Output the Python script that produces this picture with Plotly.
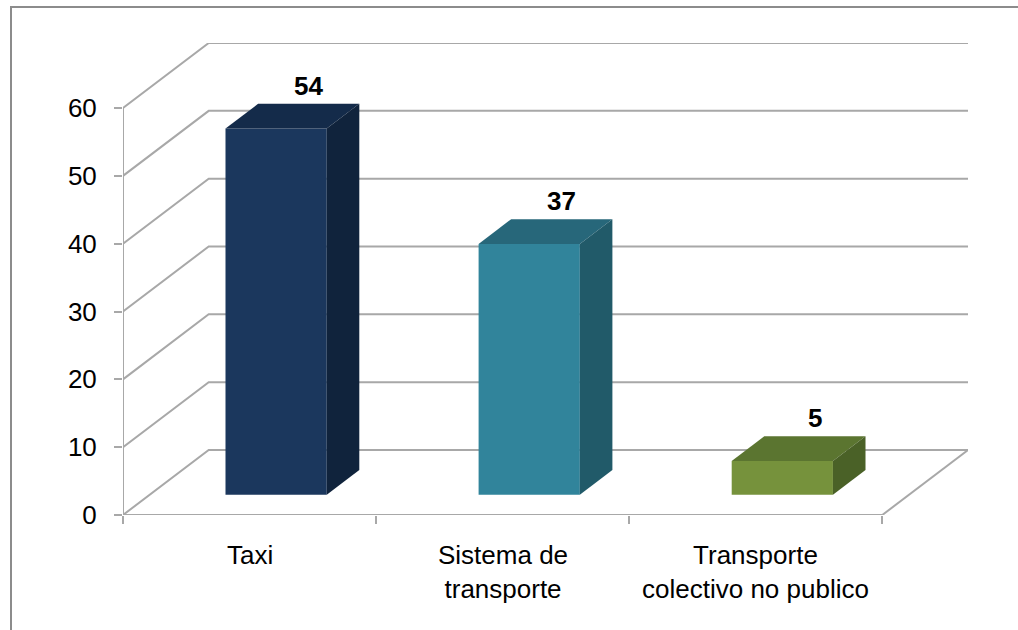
import plotly.graph_objects as go

# ---- data -------------------------------------------------------------
categories = ["Taxi", "Sistema de<br>transporte", "Transporte<br>colectivo no publico"]
values = [54, 37, 5]
y_ticks = [0, 10, 20, 30, 40, 50, 60]

# face colours per bar: front, top, side
front_colors = ["#1b375d", "#31849b", "#76923c"]
top_colors = ["#142b4a", "#27677a", "#5b7530"]
side_colors = ["#10233c", "#215a69", "#4a6127"]

# ---- pseudo-3D geometry (axis units) ------------------------------------
DEPTH_X = 0.3386      # horizontal shift of the back wall, in category units
DEPTH_Y = 9.59        # vertical shift of the back wall, in value units
BAR_W = 0.40          # bar width as a fraction of a category slot
F_FRONT, F_BACK = 0.31, 0.69   # bar front/back planes as fractions of depth
Y_MAX = 60
N = len(categories)

GRID = "#a8a8a8"
FONT = "Liberation Sans, Arial, sans-serif"
FS = 26

# plot-area placement in pixels
W, H = 1018, 630
ML, MR, MT, MB = 123, 50, 43, 115
PW, PH = W - ML - MR, H - MT - MB


def px_to_paper_x(px):
    return (px - ML) / PW


def px_to_paper_y(py):
    return (H - MB - py) / PH


fig = go.Figure()
shapes = []

# side wall diagonals + back wall gridlines
for v in y_ticks:
    shapes.append(dict(
        type="path", layer="below",
        path=f"M 0,{v} L {DEPTH_X},{v + DEPTH_Y} L {N + DEPTH_X},{v + DEPTH_Y}",
        line=dict(color=GRID, width=2), xref="x", yref="y"))

# floor right edge
shapes.append(dict(type="line", layer="below", xref="x", yref="y",
                   x0=N, y0=0, x1=N + DEPTH_X, y1=DEPTH_Y,
                   line=dict(color=GRID, width=2)))
# value axis line
shapes.append(dict(type="line", layer="below", xref="x", yref="y",
                   x0=0, y0=0, x1=0, y1=Y_MAX,
                   line=dict(color=GRID, width=2)))
# category axis line (front floor edge)
shapes.append(dict(type="line", layer="below", xref="x", yref="y",
                   x0=0, y0=0, x1=N, y1=0,
                   line=dict(color=GRID, width=2)))

# chart frame (top and left edges)
shapes.append(dict(
    type="path", xref="paper", yref="paper",
    path=(f"M {px_to_paper_x(11)},{px_to_paper_y(640)} "
          f"L {px_to_paper_x(11)},{px_to_paper_y(7)} "
          f"L {px_to_paper_x(1030)},{px_to_paper_y(7)}"),
    line=dict(color="#8c8c8c", width=2)))


def face(xs, ys, color):
    fig.add_trace(go.Scatter(
        x=xs + [xs[0]], y=ys + [ys[0]], mode="lines", fill="toself",
        fillcolor=color, line=dict(width=0, color=color),
        hoverinfo="skip", showlegend=False))


ox0, oy0 = F_FRONT * DEPTH_X, F_FRONT * DEPTH_Y
ox1, oy1 = F_BACK * DEPTH_X, F_BACK * DEPTH_Y
annotations = []

for i, v in enumerate(values):
    x0 = i + (1 - BAR_W) / 2
    x1 = x0 + BAR_W
    # front face
    face([x0 + ox0, x1 + ox0, x1 + ox0, x0 + ox0],
         [oy0, oy0, v + oy0, v + oy0], front_colors[i])
    # top face
    face([x0 + ox0, x1 + ox0, x1 + ox1, x0 + ox1],
         [v + oy0, v + oy0, v + oy1, v + oy1], top_colors[i])
    # right side face
    face([x1 + ox0, x1 + ox1, x1 + ox1, x1 + ox0],
         [oy0, oy1, v + oy1, v + oy0], side_colors[i])
    # value label above the bar
    annotations.append(dict(
        x=i + 0.5 + ox1, y=v + oy1, xref="x", yref="y",
        text=f"<b>{v}</b>", showarrow=False, yanchor="bottom",
        yshift=1, font=dict(family=FONT, size=FS, color="#000000")))
    # category label below the axis
    annotations.append(dict(
        x=i + 0.5, y=0, xref="x", yref="y", text=categories[i],
        showarrow=False, yanchor="top", yshift=-23, align="center",
        font=dict(family=FONT, size=FS, color="#000000")))

fig.update_layout(
    width=W, height=H,
    margin=dict(l=ML, r=MR, t=MT, b=MB, pad=0),
    paper_bgcolor="white", plot_bgcolor="white",
    shapes=shapes, annotations=annotations,
    showlegend=False,
    xaxis=dict(range=[0, N + DEPTH_X], showgrid=False, zeroline=False,
               showline=False, tickmode="array",
               tickvals=list(range(N + 1)), showticklabels=False,
               ticks="outside", ticklen=8, tickwidth=2, tickcolor=GRID,
               fixedrange=True),
    yaxis=dict(range=[0, Y_MAX + DEPTH_Y], showgrid=False, zeroline=False,
               showline=False, tickmode="array", tickvals=y_ticks,
               ticks="outside", ticklen=8, tickwidth=2, tickcolor=GRID,
               ticklabelstandoff=12,
               tickfont=dict(family=FONT, size=FS, color="#000000"),
               fixedrange=True),
)

fig.write_html("out.html")
